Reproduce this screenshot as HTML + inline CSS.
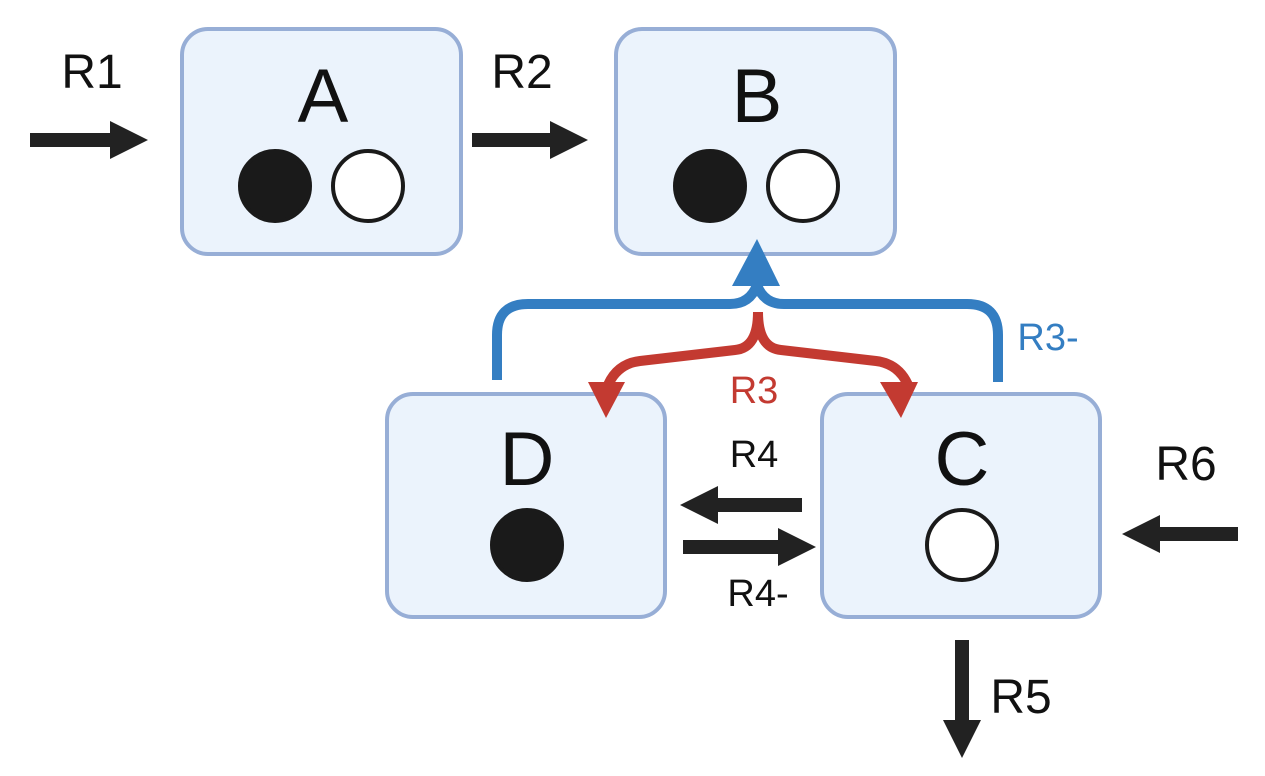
<!DOCTYPE html>
<html><head><meta charset="utf-8"><style>
html,body{margin:0;padding:0;background:#fff;width:1265px;height:776px;overflow:hidden}
text{font-family:"Liberation Sans",sans-serif}
</style></head><body>
<svg width="1265" height="776" viewBox="0 0 1265 776">
<defs></defs>
<g>
<rect x="182" y="29" width="279" height="225" rx="26" fill="#EBF3FC" stroke="#97AED6" stroke-width="4"/>
<text x="323" y="122" font-size="76" text-anchor="middle" fill="#111">A</text>
<circle cx="275" cy="186" r="35" fill="#1a1a1a" stroke="#1a1a1a" stroke-width="4"/>
<circle cx="368" cy="186" r="35" fill="#fff" stroke="#1a1a1a" stroke-width="4"/>
</g>
<g>
<rect x="616" y="29" width="279" height="225" rx="26" fill="#EBF3FC" stroke="#97AED6" stroke-width="4"/>
<text x="757" y="122" font-size="76" text-anchor="middle" fill="#111">B</text>
<circle cx="710" cy="186" r="35" fill="#1a1a1a" stroke="#1a1a1a" stroke-width="4"/>
<circle cx="803" cy="186" r="35" fill="#fff" stroke="#1a1a1a" stroke-width="4"/>
</g>
<g>
<rect x="387" y="394" width="278" height="223" rx="26" fill="#EBF3FC" stroke="#97AED6" stroke-width="4"/>
<text x="527" y="485" font-size="76" text-anchor="middle" fill="#111">D</text>
<circle cx="527" cy="545" r="35" fill="#1a1a1a" stroke="#1a1a1a" stroke-width="4"/>
</g>
<g>
<rect x="822" y="394" width="278" height="223" rx="26" fill="#EBF3FC" stroke="#97AED6" stroke-width="4"/>
<text x="962" y="485" font-size="76" text-anchor="middle" fill="#111">C</text>
<circle cx="962" cy="545" r="35" fill="#fff" stroke="#1a1a1a" stroke-width="4"/>
</g>

<g fill="#222">
<g><rect x="30" y="133" width="82" height="14"/><polygon points="110,121 148,140 110,159"/></g>
<g><rect x="472" y="133" width="80" height="14"/><polygon points="550,121 588,140 550,159"/></g>
<g><rect x="716" y="498" width="86" height="14"/><polygon points="718,486 680,505 718,524"/></g>
<g><rect x="683" y="540" width="97" height="14"/><polygon points="778,528 816,547 778,566"/></g>
<g><rect x="1158" y="527" width="80" height="14"/><polygon points="1160,515 1122,534 1160,553"/></g>
<g><rect x="955" y="640" width="14" height="82"/><polygon points="943,720 962,758 981,720"/></g>
</g>

<g>
<path d="M497,380 V335 Q497,304 528,304 H730 Q750,304 757,285 Q764,304 784,304 H967 Q998,304 998,335 V382" fill="none" stroke="#347EC2" stroke-width="10"/>
<polygon points="732,286 757,239 780,286" fill="#347EC2"/>
</g>
<g>
<path d="M758,312 Q758,348 735,350 L640,361 Q615,364 606,390" fill="none" stroke="#C33A31" stroke-width="10"/>
<path d="M758,312 Q758,348 781,350 L876,361 Q901,364 910,390" fill="none" stroke="#C33A31" stroke-width="10"/>
<polygon points="588,382 606,418 625,382" fill="#C33A31"/>
<polygon points="880,382 901,418 918,382" fill="#C33A31"/>
</g>

<text x="92" y="88" font-size="48" text-anchor="middle" fill="#111">R1</text>
<text x="522" y="88" font-size="48" text-anchor="middle" fill="#111">R2</text>
<text x="1186" y="480" font-size="48" text-anchor="middle" fill="#111">R6</text>
<text x="1021" y="713" font-size="48" text-anchor="middle" fill="#111">R5</text>
<text x="754" y="467" font-size="38" text-anchor="middle" fill="#111">R4</text>
<text x="758" y="606" font-size="38" text-anchor="middle" fill="#111">R4-</text>
<text x="1048" y="350" font-size="38" text-anchor="middle" fill="#347EC2">R3-</text>
<text x="754" y="403" font-size="38" text-anchor="middle" fill="#C33A31">R3</text>
</svg>
</body></html>
